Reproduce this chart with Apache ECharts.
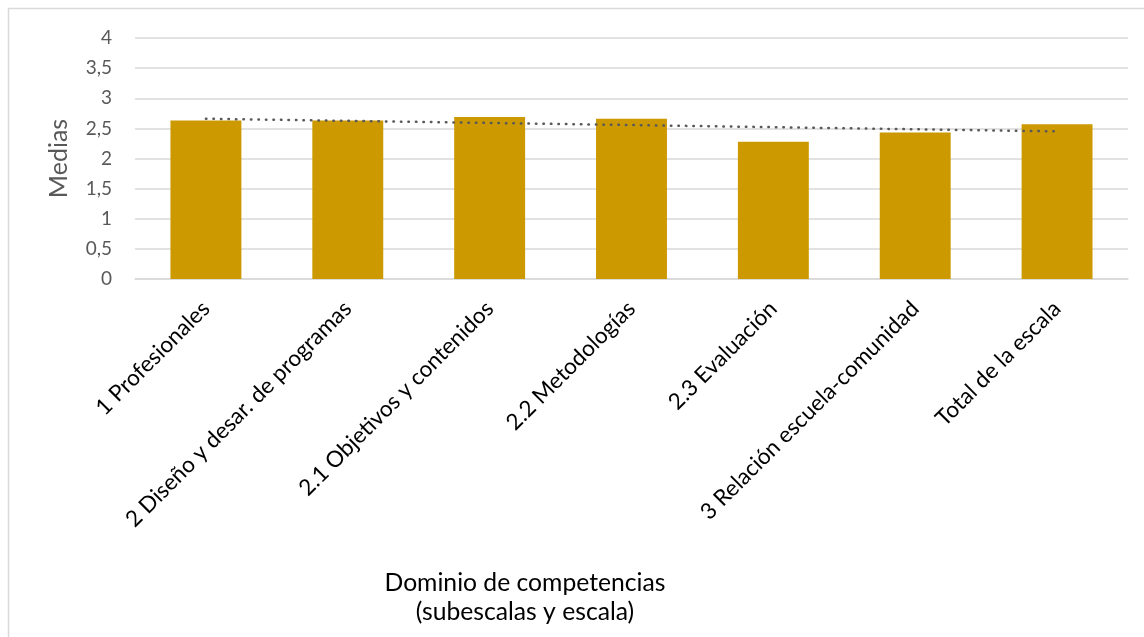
<!DOCTYPE html>
<html>
<head>
<meta charset="utf-8">
<script src="https://cdn.jsdelivr.net/npm/echarts@6/dist/echarts.min.js"></script>
<style>
html,body{margin:0;padding:0;background:#fff;}
#c{width:1144px;height:637px;}
</style>
</head>
<body>
<div id="c"></div>
<script>
var categories = ['1 Profesionales', '2 Diseño y desar. de programas', '2.1 Objetivos y contenidos', '2.2 Metodologías', '2.3 Evaluación', '3 Relación escuela-comunidad', 'Total de la escala'];
var medias = [2.63, 2.63, 2.69, 2.66, 2.28, 2.43, 2.57];
var trendEnds = [2.66, null, null, null, null, null, 2.45];
var yTickLabels = ['0', '0,5', '1', '1,5', '2', '2,5', '3', '3,5', '4'];
var yAxisTitle = 'Medias';
var xAxisTitle = 'Dominio de competencias\n(subescalas y escala)';

var chart = echarts.init(document.getElementById('c'), null, {renderer: 'canvas'});
var font = 'Lato, "Open Sans", sans-serif';
chart.setOption({
  animation: false,
  backgroundColor: '#fff',
  textStyle: {fontFamily: font},
  title: {
    text: xAxisTitle,
    left: 520,
    top: 564,
    textAlign: 'center',
    textStyle: {fontFamily: font, fontSize: 24.7, fontWeight: 'normal', color: '#000', lineHeight: 29}
  },
  graphic: [{
    type: 'rect',
    shape: {x: 8.5, y: 8.5, width: 1200, height: 700},
    style: {fill: 'none', stroke: '#d9d9d9', lineWidth: 1.5},
    silent: true
  }],
  grid: {left: 135, right: 16, top: 38, bottom: 358, containLabel: false},
  xAxis: {
    type: 'category',
    data: categories,
    axisLine: {show: true, lineStyle: {color: '#d9d9d9', width: 1.5}},
    axisTick: {show: false},
    axisLabel: {rotate: 45, interval: 0, color: '#000', fontSize: 22.5, fontFamily: font, margin: 26}
  },
  yAxis: {
    type: 'value',
    min: 0, max: 4, interval: 0.5,
    name: yAxisTitle,
    nameLocation: 'middle',
    nameGap: 64,
    nameTextStyle: {color: '#595959', fontSize: 25, fontFamily: font},
    axisLine: {show: false},
    axisTick: {show: false},
    splitLine: {lineStyle: {color: '#d9d9d9', width: 1.5}},
    axisLabel: {
      color: '#595959', fontSize: 19, fontFamily: font, margin: 23,
      formatter: function (v) { return yTickLabels[Math.round(v / 0.5)]; }
    }
  },
  series: [{
    type: 'bar',
    data: medias,
    barWidth: '50%',
    itemStyle: {color: '#cc9a00'}
  }, {
    type: 'line',
    data: trendEnds,
    connectNulls: true,
    symbol: 'none',
    lineStyle: {color: '#595959', width: 2.5, type: [0.5, 7], cap: 'round'},
    z: 5
  }]
});
</script>
</body>
</html>
